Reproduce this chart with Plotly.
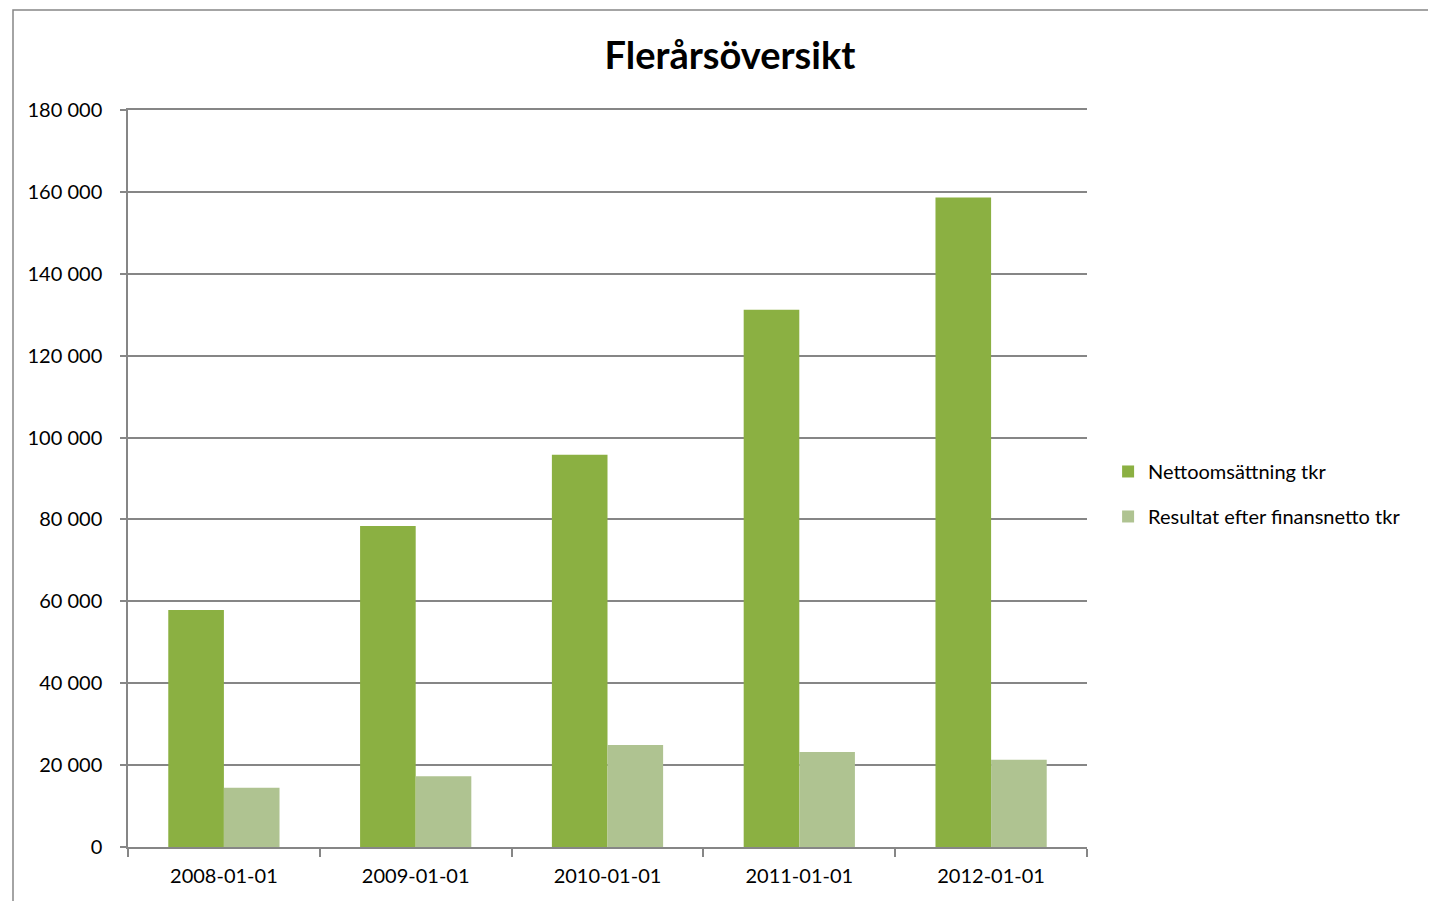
import plotly.graph_objects as go

categories = ["2008-01-01", "2009-01-01", "2010-01-01", "2011-01-01", "2012-01-01"]
netto = [57900, 78400, 95800, 131200, 158600]
resultat = [14500, 17300, 24900, 23200, 21300]
y_ticks = [0, 20000, 40000, 60000, 80000, 100000, 120000, 140000, 160000, 180000]

FONT = "Lato"
GREY = "#868686"

fig = go.Figure()
fig.add_trace(go.Bar(
    x=categories, y=netto, name="Nettoomsättning tkr", legendgroup="a",
    marker=dict(color="#8bb042", line=dict(width=0)),
))
fig.add_trace(go.Bar(
    x=categories, y=resultat, name="Resultat efter finansnetto tkr", legendgroup="b",
    marker=dict(color="#afc391", line=dict(width=0)),
))

fig.update_layout(
    width=1428, height=893,
    margin=dict(l=120, r=349, t=102, b=54),
    paper_bgcolor="white", plot_bgcolor="white",
    separators=", ",
    barmode="group", bargap=0.42, bargroupgap=0,
    title=dict(text="<b>Flerårsöversikt</b>", x=(722) / 1428, xanchor="center",
               y=1 - 48 / 893, yanchor="middle",
               font=dict(family=FONT, size=38, color="black")),
    font=dict(family=FONT, size=20, color="black"),
    legend=dict(x=1.022, xanchor="left", y=0.479, yanchor="middle",
                font=dict(family=FONT, size=20, color="black"),
                tracegroupgap=16, itemwidth=30, bgcolor="rgba(0,0,0,0)"),
    showlegend=True,
)
fig.update_xaxes(
    type="category", showline=True, linecolor=GREY, linewidth=1.5, mirror=True,
    ticks="outside", tickson="boundaries", ticklen=8, tickcolor=GREY, tickwidth=1.5,
    ticklabelstandoff=10,
    tickfont=dict(family=FONT, size=20, color="black"), showgrid=False,
)
fig.update_yaxes(
    range=[0, 180000], tickvals=y_ticks, tickformat=",d",
    showline=True, linecolor=GREY, linewidth=1.5,
    ticks="outside", ticklen=6, tickcolor=GREY, tickwidth=1.5,
    ticklabelstandoff=14,
    showgrid=True, gridcolor=GREY, gridwidth=1.5, zeroline=False,
    tickfont=dict(family=FONT, size=20, color="black"),
)
# chart frame
fig.add_shape(type="rect", xref="paper", yref="paper",
              x0=(13 - 128) / 959, x1=(1445 - 128) / 959,
              y0=-0.2, y1=(847 - 10) / 737,
              line=dict(color=GREY, width=1.5), fillcolor="rgba(0,0,0,0)", layer="below")

fig.write_html("out.html")
